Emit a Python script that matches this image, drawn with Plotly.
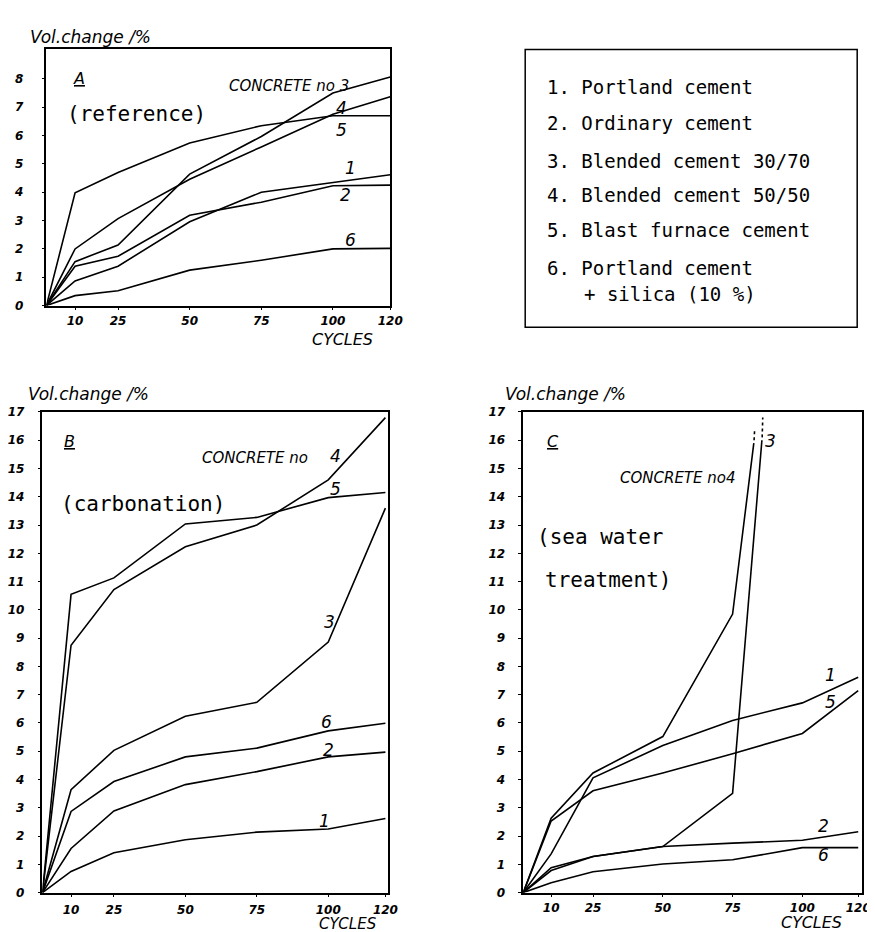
import plotly.graph_objects as go

W, H = 875, 932

# ---------------- data ----------------
cycles = [0, 10, 25, 50, 75, 100, 120]
x_ticks = [10, 25, 50, 75, 100, 120]

# Panel A (reference)
A1 = [0, 0.87, 1.39, 2.96, 4.00, 4.35, 4.62]
A2 = [0, 1.39, 1.74, 3.19, 3.65, 4.23, 4.25]
A3 = [0, 1.55, 2.14, 4.64, 5.97, 7.50, 8.07]
A4 = [0, 2.00, 3.07, 4.46, 5.60, 6.75, 7.37]
A5 = [0, 3.98, 4.70, 5.74, 6.35, 6.70, 6.70]
A6 = [0, 0.35, 0.52, 1.25, 1.60, 2.00, 2.02]

# Panel B (carbonation)
B1 = [0, 0.75, 1.41, 1.87, 2.14, 2.25, 2.62]
B2 = [0, 1.56, 2.89, 3.82, 4.28, 4.80, 4.97]
B3 = [0, 3.64, 5.03, 6.24, 6.73, 8.86, 13.6]
B4 = [0, 8.75, 10.72, 12.23, 13.00, 14.60, 16.80]
B5 = [0, 10.55, 11.13, 13.04, 13.27, 13.97, 14.15]
B6 = [0, 2.87, 3.93, 4.80, 5.11, 5.72, 5.99]

# Panel C (sea water treatment)
C1 = [0, 1.37, 4.06, 5.20, 6.09, 6.71, 7.62]
C2 = [0, 0.88, 1.28, 1.63, 1.75, 1.85, 2.15]
C5 = [0, 2.53, 3.60, 4.23, 4.91, 5.63, 7.14]
C6 = [0, 0.35, 0.74, 1.01, 1.16, 1.59, 1.59]
C3_x = [0, 10, 25, 50, 75, 85.5]
C3 = [0, 0.78, 1.28, 1.63, 3.51, 16.0]
C4_x = [0, 10, 25, 50, 75, 82.6]
C4 = [0, 2.63, 4.23, 5.52, 9.85, 15.9]
C3_tail_x = [85.6, 85.8]
C3_tail = [16.1, 16.8]
C4_tail_x = [82.7, 82.9]
C4_tail = [16.0, 16.4]

legend_items = ["1. Portland cement", "2. Ordinary cement", "3. Blended cement 30/70",
                "4. Blended cement 50/50", "5. Blast furnace cement", "6. Portland cement",
                "+ silica (10 %)"]

# ---------------- figure ----------------
fig = go.Figure()

def add(xs, ys, xa, ya, dash="solid"):
    fig.add_trace(go.Scatter(x=xs, y=ys, mode="lines", xaxis=xa, yaxis=ya,
                             line=dict(color="black", width=1.6, dash=dash),
                             showlegend=False, hoverinfo="skip"))

for s in (A1, A2, A3, A4, A5, A6):
    add(cycles, s, "x", "y")
for s in (B1, B2, B3, B4, B5, B6):
    add(cycles, s, "x2", "y2")
for s in (C1, C2, C5, C6):
    add(cycles, s, "x3", "y3")
add(C3_x, C3, "x3", "y3")
add(C4_x, C4, "x3", "y3")
add(C3_tail_x, C3_tail, "x3", "y3", dash="dot")
add(C4_tail_x, C4_tail, "x3", "y3", dash="dot")

def px(x): return x / W
def py(y): return 1 - y / H

tickfont = dict(family="DejaVu Sans", size=12, color="black", weight="bold", style="italic")

def xax(dom, rng, standoff, anchor):
    return dict(domain=dom, range=rng, anchor=anchor, showline=True, linecolor="black",
                linewidth=1.5, mirror=True, showgrid=False, zeroline=False, ticks="outside",
                ticklen=3, tickcolor="black", tickvals=x_ticks, tickfont=tickfont,
                ticklabelstandoff=standoff, fixedrange=True)

def yax(dom, rng, tv, standoff, anchor):
    return dict(domain=dom, range=rng, anchor=anchor, showline=True, linecolor="black",
                linewidth=1.5, mirror=True, showgrid=False, zeroline=False, ticks="outside",
                ticklen=3, tickcolor="black", tickvals=tv, tickfont=tickfont,
                ticklabelstandoff=standoff, fixedrange=True)

fig.update_layout(
    width=W, height=H, margin=dict(l=0, r=0, t=0, b=0),
    paper_bgcolor="white", plot_bgcolor="white",
    xaxis=xax([px(39), px(388)], [0, 120], 0, "y"),
    yaxis=yax([py(295), py(35)], [0, 9.04], list(range(0, 9)), 16, "x"),
    xaxis2=xax([px(35), px(386)], [0, 121], 2, "y2"),
    yaxis2=yax([py(891), py(403)], [0, 17.0], list(range(0, 18)), 11, "x2"),
    xaxis3=xax([px(523), px(867)], [0, 121.4], 0, "y3"),
    yaxis3=yax([py(891), py(403)], [0, 17.0], list(range(0, 18)), 11, "x3"),
)

ann = []
ital = lambda s: dict(family="DejaVu Sans", size=s, color="black", style="italic")
mono = lambda s: dict(family="DejaVu Sans Mono", size=s, color="black")

def A(text, x, y, xref, yref, font, xanchor="center", yanchor="middle"):
    ann.append(dict(text=text, x=x, y=y, xref=xref, yref=yref, showarrow=False,
                    font=font, xanchor=xanchor, yanchor=yanchor))

# axis titles
for (x0, y0) in [(20, 22), (18, 385), (502, 385)]:
    A("Vol.change /%", px(x0), py(y0), "paper", "paper", ital(17), xanchor="left")
for (x0, y0, fs) in [(340, 329, 16), (345, 923, 15), (816, 921, 16)]:
    A("CYCLES", px(x0), py(y0), "paper", "paper", ital(fs))

# Panel A labels
A("<u>A</u>", 11.5, 8.0, "x", "y", ital(16))
A("(reference)", 6.5, 6.75, "x", "y", mono(21), xanchor="left")
A("CONCRETE no 3", 84.5, 7.75, "x", "y", ital(15))
A("4", 103, 6.96, "x", "y", ital(17))
A("5", 103, 6.19, "x", "y", ital(17))
A("1", 106, 4.85, "x", "y", ital(17))
A("2", 104.5, 3.9, "x", "y", ital(17))
A("6", 106, 2.3, "x", "y", ital(17))

# Panel B labels
A("<u>B</u>", 9.6, 15.95, "x2", "y2", ital(16))
A("(carbonation)", 5.8, 13.73, "x2", "y2", mono(21), xanchor="left")
A("CONCRETE no", 74.3, 15.37, "x2", "y2", ital(15))
A("4", 102.7, 15.43, "x2", "y2", ital(17))
A("5", 102.7, 14.26, "x2", "y2", ital(17))
A("3", 100.3, 9.56, "x2", "y2", ital(17))
A("6", 99.3, 6.03, "x2", "y2", ital(17))
A("2", 100, 5.05, "x2", "y2", ital(17))
A("1", 98.6, 2.54, "x2", "y2", ital(17))

# Panel C labels
A("<u>C</u>", 10.5, 15.95, "x3", "y3", ital(16))
A("CONCRETE no4", 55.4, 14.66, "x3", "y3", ital(15))
A("3", 88.6, 15.98, "x3", "y3", ital(17))
A("(sea water", 4.2, 12.57, "x3", "y3", mono(21), xanchor="left")
A("treatment)", 7.0, 11.07, "x3", "y3", mono(21), xanchor="left")
A("1", 110, 7.69, "x3", "y3", ital(17))
A("5", 110, 6.75, "x3", "y3", ital(17))
A("2", 107.7, 2.36, "x3", "y3", ital(17))
A("6", 107.7, 1.32, "x3", "y3", ital(17))

# Legend box text
leg_y = [73, 110, 148, 183, 218, 257, 283]
leg_x = [545, 545, 545, 545, 545, 545, 583]
for t, lx, ly in zip(legend_items, leg_x, leg_y):
    A(t, px(lx), py(ly), "paper", "paper", mono(19), xanchor="left")

fig.update_layout(annotations=ann)
fig.add_shape(type="rect", xref="paper", yref="paper",
              x0=px(525), x1=px(862), y0=py(317), y1=py(35),
              line=dict(color="black", width=1.5))

fig.write_html("out.html")
